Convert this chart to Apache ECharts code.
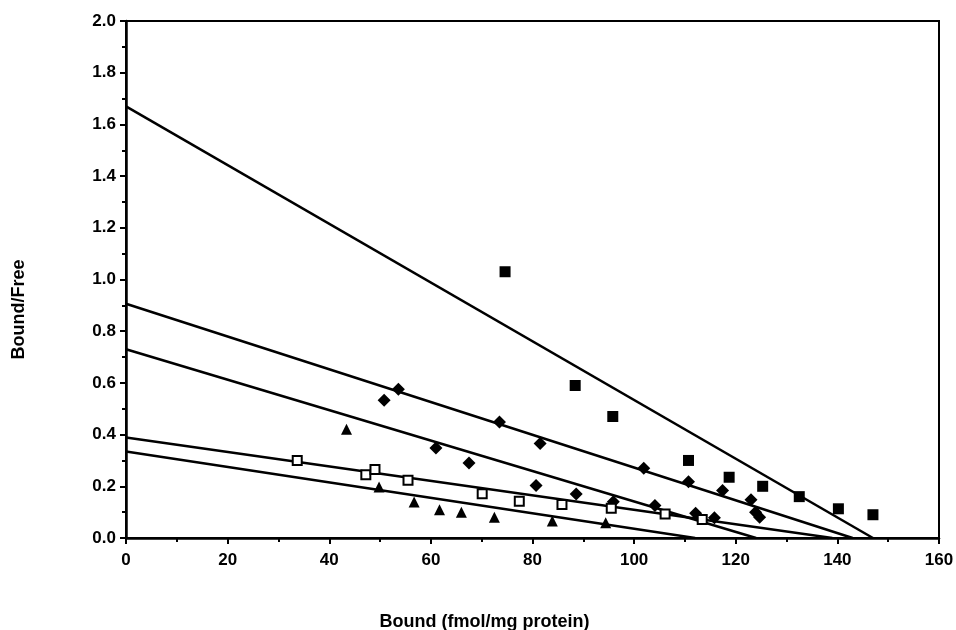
<!DOCTYPE html>
<html>
<head>
    <meta charset="UTF-8">
    <title>Bound/Free</title>
    <script src="https://cdn.jsdelivr.net/npm/echarts@6/dist/echarts.min.js"></script>
</head>
<body style="margin:0">
<div id="main" style="width: 956px;height:630px;"></div>
<script type="text/javascript">
    // 数据点 [Bound, Bound/Free]
    var filledSquares = [[74.6, 1.03], [88.4, 0.59], [95.8, 0.47], [110.7, 0.30], [118.7, 0.235], [125.3, 0.20], [132.5, 0.16], [140.2, 0.113], [147.0, 0.09]];
    var diamondsUpper = [[53.6, 0.575], [73.5, 0.449], [81.5, 0.366], [101.9, 0.27], [110.7, 0.218], [117.4, 0.184], [123.0, 0.148]];
    var diamondsLower = [[50.8, 0.533], [61.0, 0.348], [67.5, 0.29], [80.7, 0.203], [88.6, 0.17], [95.9, 0.14], [104.1, 0.126], [112.1, 0.096], [115.8, 0.078], [123.9, 0.10], [124.7, 0.08]];
    var openSquares = [[33.7, 0.30], [47.2, 0.245], [49.0, 0.265], [55.5, 0.223], [70.1, 0.171], [77.4, 0.142], [85.8, 0.13], [95.5, 0.115], [106.1, 0.093], [113.4, 0.072]];
    var triangles = [[43.4, 0.421], [49.8, 0.197], [56.7, 0.139], [61.7, 0.109], [66.0, 0.100], [72.5, 0.08], [83.9, 0.066], [94.4, 0.059]];

    // 回归直线 (两端点)
    var fitFilledSquares = [[0, 1.67], [147, 0]];
    var fitDiamondsUpper = [[0, 0.906], [143, 0]];
    var fitDiamondsLower = [[0, 0.73], [124, 0]];
    var fitOpenSquares = [[0, 0.389], [139, 0]];
    var fitTriangles = [[0, 0.335], [112, 0]];

    var myChart = echarts.init(document.getElementById('main'));

    var font = 'Liberation Sans';

    function fitLine(data) {
        return {
            type: 'line',
            data: data,
            symbol: 'none',
            silent: true,
            lineStyle: {color: '#000', width: 2.5},
            z: 2
        };
    }

    function points(data, symbol, size, filled) {
        return {
            type: 'scatter',
            data: data,
            symbol: symbol,
            symbolSize: size,
            itemStyle: filled ? {color: '#000', opacity: 1} : {color: '#fff', borderColor: '#000', borderWidth: 2, opacity: 1},
            z: 3
        };
    }

    var option = {
        animation: false,
        grid: {
            left: 126,
            right: 17,
            top: 21,
            bottom: 92,
            outerBoundsMode: 'none',
            containLabel: false,
            show: true,
            borderColor: '#000',
            borderWidth: 2
        },
        xAxis: {
            type: 'value',
            min: 0,
            max: 160,
            interval: 20,
            name: 'Bound (fmol/mg protein)',
            nameLocation: 'middle',
            nameGap: 75,
            nameTextStyle: {fontFamily: font, fontWeight: 'bold', fontSize: 18, color: '#000', padding: [0, 96, 0, 0]},
            axisLine: {lineStyle: {color: '#000', width: 2.5}},
            axisTick: {inside: false, length: 6, lineStyle: {color: '#000', width: 2}},
            minorTick: {show: true, splitNumber: 2, length: 4, lineStyle: {color: '#000', width: 2}},
            axisLabel: {margin: 14, fontFamily: font, fontWeight: 'bold', fontSize: 17, color: '#000'},
            splitLine: {show: false}
        },
        yAxis: {
            type: 'value',
            min: 0,
            max: 2,
            interval: 0.2,
            name: 'Bound/Free',
            nameLocation: 'middle',
            nameGap: 98,
            nameTextStyle: {fontFamily: font, fontWeight: 'bold', fontSize: 18, color: '#000', padding: [0, 60, 0, 0]},
            axisLine: {lineStyle: {color: '#000', width: 2.5}},
            axisTick: {inside: false, length: 6, lineStyle: {color: '#000', width: 2}},
            minorTick: {show: true, splitNumber: 2, length: 4, lineStyle: {color: '#000', width: 2}},
            axisLabel: {
                margin: 10, fontFamily: font, fontWeight: 'bold', fontSize: 17, color: '#000',
                formatter: function (v) { return v.toFixed(1); }
            },
            splitLine: {show: false}
        },
        series: [
            fitLine(fitFilledSquares),
            fitLine(fitDiamondsUpper),
            fitLine(fitDiamondsLower),
            fitLine(fitOpenSquares),
            fitLine(fitTriangles),
            points(filledSquares, 'rect', 11, true),
            points(diamondsUpper, 'diamond', 13, true),
            points(diamondsLower, 'diamond', 13, true),
            points(openSquares, 'rect', 9, false),
            points(triangles, 'triangle', 11, true)
        ]
    };

    myChart.setOption(option);
</script>
</body>
</html>
